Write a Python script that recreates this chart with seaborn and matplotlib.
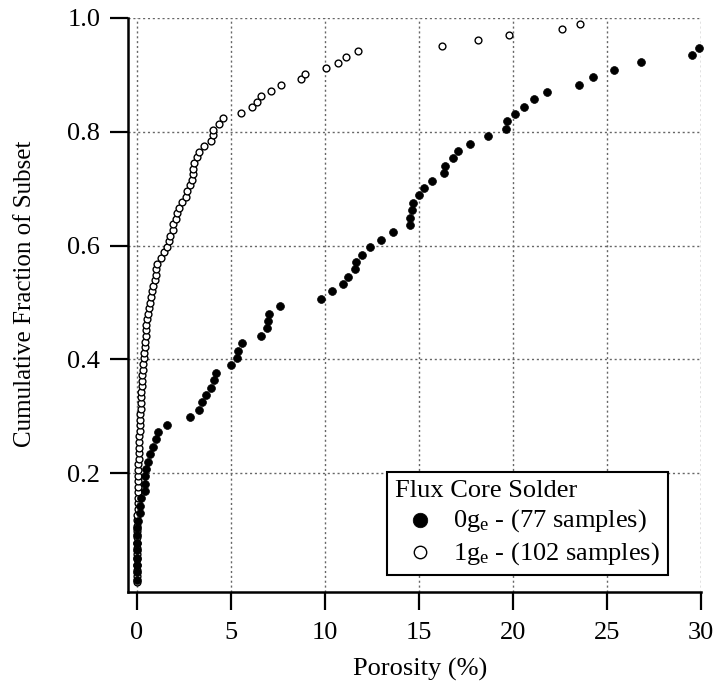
import numpy as np
import pandas as pd
import seaborn as sns
import matplotlib.pyplot as plt

# porosity (%) of each sample; the few values above 30 %
# fall outside the plotted range but still count in the cumulative fraction
porosity_0ge = [0.0, 0.0, 0.0, 0.0, 0.01, 0.01, 0.02, 0.02, 0.03,
                0.16, 0.18, 0.22, 0.40, 0.42, 0.43, 0.45,
                0.60, 0.69, 0.87, 1.01, 1.13, 1.58, 2.82, 3.30, 3.44, 3.65,
                3.94, 4.08, 4.22, 5.00, 5.34, 5.39, 5.60, 6.58, 6.90, 6.95,
                7.04, 7.59, 9.80, 10.37, 10.98, 11.20, 11.60, 11.63, 11.99,
                12.39, 12.98, 13.60, 14.52, 14.54, 14.64, 14.70, 15.00, 15.27,
                15.71, 16.35, 16.37, 16.81, 17.07, 17.70, 18.69, 19.63, 19.66,
                20.10, 20.60, 21.10, 21.83, 23.49, 24.27, 25.39, 26.80, 29.50,
                29.90, 31.5, 34.0, 38.0, 45.0]

porosity_1ge = [0.0, 0.0, 0.0, 0.0, 0.0, 0.0, 0.01, 0.01, 0.01, 0.01,
                0.02, 0.02, 0.02, 0.03, 0.03, 0.03, 0.04, 0.04, 0.05, 0.05,
                0.06, 0.07, 0.08, 0.09, 0.10, 0.11, 0.12, 0.14, 0.16, 0.17,
                0.18, 0.19, 0.20, 0.22, 0.23, 0.25, 0.26, 0.28, 0.30, 0.32,
                0.35, 0.37, 0.40, 0.43, 0.45, 0.47, 0.50, 0.54, 0.57, 0.61,
                0.69, 0.75, 0.80, 0.87, 0.95, 1.00, 1.02, 1.05, 1.30, 1.45,
                1.60, 1.68, 1.76, 1.90, 1.93, 2.07, 2.11, 2.22, 2.41, 2.59,
                2.64, 2.82, 2.93, 2.96, 2.99, 3.03, 3.19, 3.31, 3.56, 3.92,
                4.03, 4.04, 4.36, 4.57, 5.53, 6.13, 6.40, 6.61, 7.15, 7.68,
                8.70, 8.92, 10.04, 10.67, 11.13, 11.77, 16.24, 18.16, 19.79,
                22.59, 23.58, 38.0]

group_labels = ["0g$_{\\rm e}$ - (77 samples)", "1g$_{\\rm e}$ - (102 samples)"]
legend_title = "Flux Core Solder"
x_ticks = [0, 5, 10, 15, 20, 25, 30]
y_ticks = [0.2, 0.4, 0.6, 0.8, 1.0]


def ecdf(values, label):
    v = np.sort(np.asarray(values, dtype=float))
    return pd.DataFrame({"Porosity": v,
                         "Fraction": np.arange(1, len(v) + 1) / len(v),
                         "Group": label})


df = pd.concat([ecdf(porosity_0ge, group_labels[0]),
                ecdf(porosity_1ge, group_labels[1])], ignore_index=True)
shown = df[df["Porosity"] <= 30.2]

sns.set_theme(style="ticks")
plt.rcParams['font.family'] = ['Liberation Serif', 'DejaVu Serif']
plt.rcParams['mathtext.fontset'] = 'custom'
plt.rcParams['mathtext.rm'] = 'Liberation Serif'
plt.rcParams['mathtext.it'] = 'Liberation Serif:italic'
plt.rcParams['text.color'] = 'black'
plt.rcParams['axes.labelcolor'] = 'black'

fig = plt.figure(figsize=(7.18, 6.87), dpi=100)
ax = fig.add_axes([0.1783, 0.1387, 0.7980, 0.8351])

ax.grid(True, color='#666666', linestyle=(0, (1.5, 2)), linewidth=1.0)
ax.set_axisbelow(True)

sns.scatterplot(data=shown[shown["Group"] == group_labels[1]],
                x="Porosity", y="Fraction", ax=ax, s=24,
                facecolor='white', edgecolor='black', linewidth=1.0,
                marker='o', label=group_labels[1], clip_on=False, zorder=3)
sns.scatterplot(data=shown[shown["Group"] == group_labels[0]],
                x="Porosity", y="Fraction", ax=ax, s=32,
                color='black', edgecolor='black', linewidth=0.5,
                marker='o', label=group_labels[0], clip_on=False, zorder=4)

ax.set_xlim(-0.48, 30)
ax.set_ylim(-0.008, 1.0)
ax.set_xticks(x_ticks)
ax.set_yticks(y_ticks)
ax.set_yticklabels([f"{t:.1f}" for t in y_ticks])
ax.set_xlabel("Porosity (%)", fontsize=19, color='black')
ax.set_ylabel("Cumulative Fraction of Subset", fontsize=18, color='black')
ax.xaxis.set_label_coords(0.51, -0.135, transform=ax.transAxes)
ax.yaxis.set_label_coords(-0.16, 0.52, transform=ax.transAxes)
ax.xaxis.label.set_va('center')
ax.tick_params(axis='both', direction='out', length=13, width=1.6,
               labelsize=19, color='black', labelcolor='black')
ax.tick_params(axis='x', pad=9)
ax.tick_params(axis='y', pad=7)

for side in ['top', 'right']:
    ax.spines[side].set_visible(False)
for side in ['left', 'bottom']:
    ax.spines[side].set_linewidth(1.8)
    ax.spines[side].set_color('black')

handles, labels = ax.get_legend_handles_labels()
order = [labels.index(group_labels[0]), labels.index(group_labels[1])]
leg = ax.legend([handles[i] for i in order], [labels[i] for i in order],
                title=legend_title, loc='lower right',
                bbox_to_anchor=(0.942, 0.0296), frameon=True, fancybox=False,
                edgecolor='black', framealpha=1, fontsize=19,
                title_fontsize=19, alignment='left',
                handletextpad=0.3, handlelength=1.9, borderpad=0.3,
                labelspacing=0.22, borderaxespad=0)
leg.get_frame().set_linewidth(1.5)
leg.get_title().set_color('black')
for t in leg.get_texts():
    t.set_color('black')
leg.legend_handles[0].set_sizes([110])
leg.legend_handles[1].set_sizes([80])

fig.savefig("out.png", dpi=100)
